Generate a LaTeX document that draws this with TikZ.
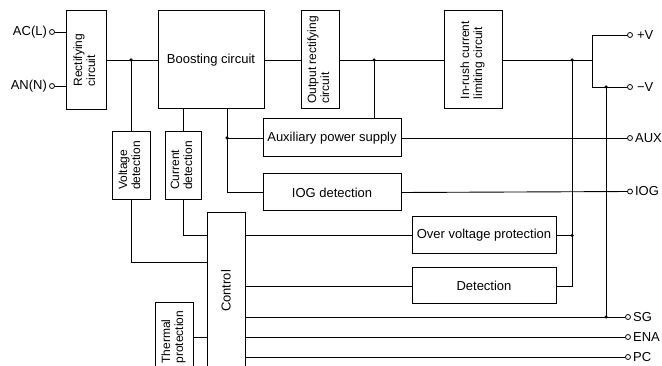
\documentclass[tikz,border=0pt]{standalone}
\usepackage{fontspec}
\setmainfont{Liberation Sans}
\usetikzlibrary{positioning}
\tikzset{
  blk/.style={draw, line width=1pt, inner sep=1pt, align=center, font=\fontsize{13}{15}\selectfont},
  vblk/.style={blk, font=\fontsize{12}{13}\selectfont},
  wire/.style={line width=0.9pt},
  term/.style={circle, draw, line width=0.8pt, fill=white, inner sep=0pt, minimum size=5pt},
  jdot/.style={circle, fill, inner sep=0pt, minimum size=3.5pt},
  lbl/.style={font=\fontsize{13}{15}\selectfont, inner sep=1pt}
}
\newcommand{\vtext}[1]{\rotatebox{90}{\begin{tabular}{@{}l@{}}#1\end{tabular}}}

\begin{document}
\begin{tikzpicture}[x=1pt, y=-1pt]
\clip (0,0) rectangle (662,366);
% blocks
\node[vblk, minimum width=40pt, minimum height=99pt] (rect) at (86,60) {\vtext{Rectifying\\circuit}};
\node[blk, minimum width=106pt, minimum height=98pt] (boost) at (211,60) {Boosting circuit};
\node[vblk, minimum width=38pt, minimum height=98pt] (outrect) at (320,60) {\vtext{Output rectifying\\circuit}};
\node[vblk, minimum width=58pt, minimum height=98pt] (inrush) at (473,60) {\vtext{In-rush current\\limiting circuit}};
\node[vblk, minimum width=38pt, minimum height=68pt] (volt) at (131,165.5) {\vtext{Voltage\\detection}};
\node[vblk, minimum width=36pt, minimum height=68pt] (curr) at (183,165.5) {\vtext{Current\\detection}};
\node[blk, minimum width=138pt, minimum height=38pt] (aux) at (332,138) {Auxiliary power supply};
\node[blk, minimum width=138pt, minimum height=37pt, below=16pt of aux] (iog) {IOG detection};
\node[blk, minimum width=144pt, minimum height=37pt] (ovp) at (484,235.5) {Over voltage protection};
\node[blk, minimum width=144pt, minimum height=36pt, below=13pt of ovp] (det) {Detection};
\node[blk, minimum width=38pt, minimum height=156pt] (ctrl) at (226,291) {\rotatebox{90}{Control}};
\node[vblk, minimum width=38pt, minimum height=68pt] (therm) at (174,337) {\vtext{Thermal\\protection}};

% terminals
\node[term] (acl) at (52,32) {};
\node[lbl, left=1pt of acl] (acl-t) {AC(L)};
\node[term] (ann) at (52,86) {};
\node[lbl, left=1pt of ann] (ann-t) {AN(N)};
\node[term] (pv) at (630,35) {};
\node[lbl, right=3pt of pv] (pv-t) {+V};
\node[term] (mv) at (630,87) {};
\node[lbl, right=3pt of mv] (mv-t) {−V};
\node[term] (auxt) at (630,138) {};
\node[lbl, right=1pt of auxt] (auxt-t) {AUX};
\node[term] (iogt) at (630,191.5) {};
\node[lbl, right=1pt of iogt] (iogt-t) {IOG};
\node[term] (sg) at (628,317) {};
\node[lbl, right=1pt of sg] (sg-t) {SG};
\node[term] (ena) at (628,337) {};
\node[lbl, right=1pt of ena] (ena-t) {ENA};
\node[term] (pc) at (628,357) {};
\node[lbl, right=1pt of pc] (pc-t) {PC};

% junctions
\node[jdot] (j1) at (131,60) {};
\node[jdot] (j2) at (374,60) {};
\node[jdot] (j3) at (572,60) {};
\node[jdot] (j4) at (606,87) {};
\node[jdot] (j5) at (606,317) {};
\node[jdot] (j6) at (572,235.5) {};
\node[jdot] (j7) at (227,138) {};
\coordinate (fork) at (592,60);

% main power path
\draw[wire] (acl) -- (acl -| rect.west);
\draw[wire] (ann) -- (ann -| rect.west);
\draw[wire] (rect.east) -- (boost.west);
\draw[wire] (j1.center) -- (volt.north);
\draw[wire] (boost.east) -- (outrect.west);
\draw[wire] (outrect.east) -- (inrush.west);
\draw[wire] (j2.center) -- (j2.center |- aux.north);
\draw[wire] (inrush.east) -- (fork);
\draw[wire] (pv) -- (pv -| fork) -- (mv -| fork) -- (mv);
\draw[wire] (j4.center) -- (j5.center);
\draw[wire] (j3.center) -- (j3.center |- det.east) -- (det.east);
\draw[wire] (ovp.east) -- (j6.center);

% auxiliary and detection
\draw[wire] (j7 |- boost.south) -- (j7 |- iog.west) -- (iog.west);
\draw[wire] (j7.center) -- (aux.west);
\draw[wire] (aux.east) -- (auxt);
\draw[wire] (iog.east) -- (iogt);
\draw[wire] (curr.north) -- (curr.north |- boost.south);

% control
\draw[wire] (curr.south) |- (ctrl.west |- ovp.west);
\draw[wire] (volt.south) |- (ctrl.west |- 0,262);
\draw[wire] (therm.east) -- (therm.east -| ctrl.west);
\draw[wire] (ctrl.east |- ovp.west) -- (ovp.west);
\draw[wire] (ctrl.east |- det.west) -- (det.west);
\draw[wire] (sg -| ctrl.east) -- (sg);
\draw[wire] (ena -| ctrl.east) -- (ena);
\draw[wire] (pc -| ctrl.east) -- (pc);
\end{tikzpicture}
\end{document}
